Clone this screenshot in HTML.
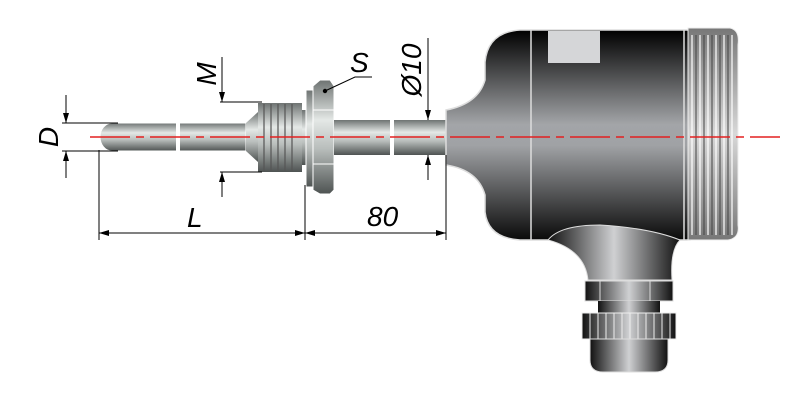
<!DOCTYPE html>
<html><head><meta charset="utf-8"><style>body{margin:0;background:#fff}svg{display:block}text{font-family:"Liberation Sans",sans-serif;font-style:italic;font-size:28px;fill:#000}</style></head><body>
<svg width="800" height="400" viewBox="0 0 800 400" xmlns="http://www.w3.org/2000/svg">
<defs>
<linearGradient id="m" x1="0" y1="0" x2="0" y2="1"><stop offset="0" stop-color="#6e7372"/><stop offset=".35" stop-color="#e4e8e6"/><stop offset=".6" stop-color="#b9bebc"/><stop offset="1" stop-color="#4e5352"/></linearGradient>
<linearGradient id="h" x1="0" y1="0" x2="0" y2="1"><stop offset="0" stop-color="#000"/><stop offset=".45" stop-color="#a3a5a8"/><stop offset=".55" stop-color="#a0a2a5"/><stop offset="1" stop-color="#0a0a0a"/></linearGradient>
<linearGradient id="c" x1="0" y1="0" x2="0" y2="1"><stop offset="0" stop-color="#777"/><stop offset=".5" stop-color="#d8d8d8"/><stop offset="1" stop-color="#777"/></linearGradient>
<linearGradient id="v" x1="0" y1="0" x2="1" y2="0"><stop offset="0" stop-color="#111"/><stop offset=".5" stop-color="#cfd0d2"/><stop offset="1" stop-color="#111"/></linearGradient>
<marker id="a" viewBox="0 0 10 6" refX="10" refY="3" markerWidth="10" markerHeight="6" orient="auto-start-reverse" markerUnits="userSpaceOnUse"><path d="M0,0L10,3L0,6z" fill="#000"/></marker>
</defs>
<path d="M112,123H246V151H112A12,14 0 0 1 112,123Z" fill="url(#m)" stroke="#fff" stroke-width="1"/>
<rect x="176" y="121" width="4" height="32" fill="#fff"/>
<path d="M246,123L258,112V162L246,151Z" fill="url(#m)"/>
<rect x="258" y="103" width="44" height="69" fill="url(#m)"/>
<g stroke="#555" stroke-width="1.2"><path d="M264,104V171M271,104V171M278,104V171M285,104V171M292,104V171"/></g>
<rect x="302" y="110" width="6" height="55" fill="url(#m)"/>
<rect x="306" y="90" width="8" height="97" fill="url(#m)" stroke="#fff"/>
<path d="M313,86L320,80H330L334,86V190L330,194H320L313,190Z" fill="url(#m)" stroke="#fff"/>
<path d="M313,110H334M313,164H334" stroke="#fff"/>
<rect x="334" y="120" width="114" height="35" fill="url(#m)"/>
<rect x="390" y="118" width="4" height="39" fill="#fff"/>
<path d="M446,110Q478,104 485,80V62Q488,32 520,30H690V240H520Q488,238 485,212V195Q478,170 446,165Z" fill="url(#h)" stroke="#ddd" stroke-width="1.5"/>
<path d="M531,30V240M684,30V240" stroke="#ddd" stroke-width="1.5"/>
<rect x="548" y="31" width="52" height="32" fill="#d5d6d8"/>
<path d="M688,28H730Q740,30 738,45V225Q740,238 728,240H688Z" fill="url(#c)" stroke="#eee"/>
<g stroke="#444" stroke-width="1" fill="none">
<path d="M696,35V235M704,35V235M712,35V235M720,35V235M728,35V235"/>
</g>
<g stroke="#fff" stroke-width="1.2" fill="none">
<path d="M692,35V235M700,35V235M708,35V235M716,35V235M724,35V235M732,35V235"/>
</g>
<path d="M548,240Q560,225 600,225Q650,228 680,240Q670,250 672,280H588Q585,250 548,240Z" fill="url(#v)" stroke="#ddd"/>
<rect x="585" y="281" width="88" height="20" fill="url(#v)" stroke="#ddd"/>
<path d="M600,281V301M650,281V301" stroke="#ddd"/>
<rect x="598" y="301" width="62" height="12" fill="url(#v)"/>
<rect x="582" y="313" width="94" height="26" fill="url(#v)" stroke="#eee"/>
<g stroke="#eee"><path d="M590,313V339M598,313V339M606,313V339M614,313V339M622,313V339M630,313V339M638,313V339M646,313V339M654,313V339M662,313V339M670,313V339"/></g>
<path d="M590,339H668V360Q668,372 655,372H603Q590,372 590,360Z" fill="url(#v)" stroke="#ddd"/>
<line x1="90" y1="137" x2="780" y2="137" stroke="#e32020" stroke-width="1.5" stroke-dasharray="40,6,8,6"/>
<g stroke="#000" stroke-width="1" fill="none">
<path d="M62,123H118M62,151H118"/>
<line x1="66" y1="95" x2="66" y2="123" marker-end="url(#a)"/>
<line x1="66" y1="178" x2="66" y2="151" marker-end="url(#a)"/>
<path d="M220,102H262M220,172H262"/>
<line x1="222" y1="57" x2="222" y2="102" marker-end="url(#a)"/>
<line x1="222" y1="197" x2="222" y2="172" marker-end="url(#a)"/>
<path d="M99,150V240M305,185V240M446,155V240"/>
<line x1="99" y1="233" x2="305" y2="233" marker-start="url(#a)" marker-end="url(#a)"/>
<line x1="305" y1="233" x2="446" y2="233" marker-start="url(#a)" marker-end="url(#a)"/>
<line x1="428" y1="38" x2="428" y2="120" marker-end="url(#a)"/>
<line x1="428" y1="180" x2="428" y2="155" marker-end="url(#a)"/>
<path d="M325,91L355,77H372"/>
</g>
<circle cx="325" cy="91" r="2.2" fill="#000"/>
<text x="350" y="72">S</text>
<text x="187" y="227">L</text>
<text x="367" y="226">80</text>
<text transform="translate(58,137) rotate(-90)" text-anchor="middle">D</text>
<text transform="translate(216,74) rotate(-90)" text-anchor="middle">M</text>
<text transform="translate(421,70) rotate(-90)" text-anchor="middle">Ø10</text>
</svg>
</body></html>
